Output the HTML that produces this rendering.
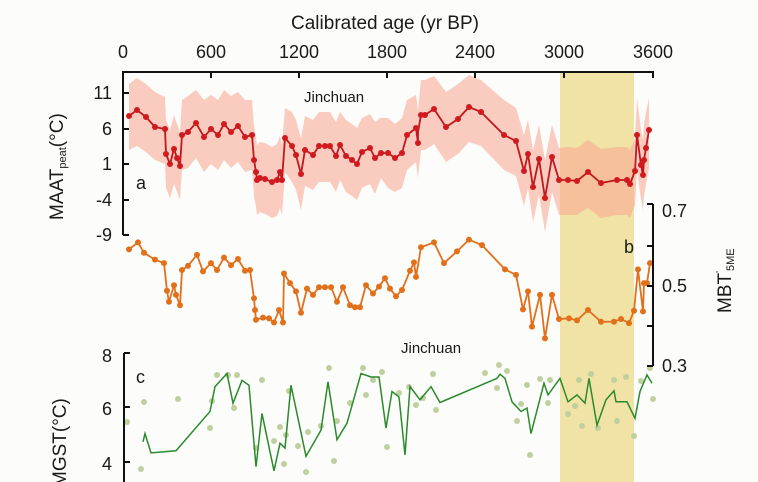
<!DOCTYPE html>
<html><head><meta charset="utf-8"><style>
html,body{margin:0;padding:0;background:#fcfcfa;overflow:hidden;}
svg{display:block;font-family:"Liberation Sans",Arial,sans-serif;}
</style></head><body>
<svg width="758" height="482" viewBox="0 0 758 482" xmlns="http://www.w3.org/2000/svg">
<rect width="758" height="482" fill="#fcfcfa"/>
<rect x="560" y="72" width="74" height="410" fill="#f1e3a6"/>
<!-- band a -->
<polygon fill="#f7a48f" fill-opacity="0.55" points="129,84 137,78 146,84 155,92 165,97 166,120 170,130 174,115 177,124 180,132 182,100 188,96 196,90 204,100 211,95 218,100 224,90 231,96 238,92 245,100 252,100 254,125 256,138 257,145 260,142 265,143 272,147 277,144 280,136 282,145 285,108 292,112 296,120 301,138 305,116 313,120 319,112 325,112 330,112 336,122 340,112 346,120 352,124 357,128 362,118 370,114 375,122 380,118 388,118 395,124 402,118 407,100 416,95 418,110 421,80 425,80 434,76 446,92 458,84 469,75 481,80 504,100 516,108 524,135 528,120 533,150 539,125 545,160 552,125 559,148 568,147 577,148 588,140 601,149 617,147 627,147 630,150 635,138 637,98 641,130 643,140 644,124 646,112 649,98 649,168 646,184 644,196 643,210 641,200 637,170 635,205 630,218 627,215 617,215 601,218 588,208 577,215 568,215 559,215 552,192 545,232 539,195 533,222 528,188 524,206 516,176 504,170 481,146 469,142 458,154 446,162 434,144 425,150 421,150 418,178 416,162 407,170 402,188 395,192 388,188 381,178 375,194 370,184 362,188 357,200 352,196 346,192 340,180 336,192 330,182 325,182 319,182 313,190 305,186 301,210 296,190 292,182 285,172 282,215 280,208 277,216 272,218 265,214 260,212 257,215 256,207 254,196 252,170 245,172 238,162 231,168 224,160 218,170 211,164 204,172 196,158 188,168 182,170 180,200 177,192 174,184 170,198 166,188 165,164 155,160 146,152 137,146 129,150"/>
<!-- series a -->
<g stroke="#c0181c" stroke-width="1.8" fill="none">
<polyline points="129,116 137,110 146,117 155,127 165,129 166,154 170,164 174,149 177,158 180,166 182,135 188,132 196,123 204,137 211,129 218,135 224,124 231,132 238,126 245,137 252,135 254,160 256,172 257,180 260,178 265,179 272,182 277,180 280,172 282,180 285,138 292,146 296,155 301,174 305,150 313,155 319,146 325,146 330,146 336,156 340,145 346,156 352,160 357,164 362,152 370,148 375,158 381,153 388,153 395,158 402,153 407,135 416,128 418,143 418,132 421,115 425,115 434,109 446,127 458,119 469,107 481,112 504,135 516,141 524,171 528,154 533,187 539,159 545,198 552,157 559,180 568,180 577,181 588,172 601,183 617,180 627,180 630,184 635,171 637,135 641,165 643,175 644,160 646,148 649,130"/>
</g>
<g fill="#d01a1e">
<circle cx="129" cy="116" r="3"/><circle cx="137" cy="110" r="3"/><circle cx="146" cy="117" r="3"/><circle cx="155" cy="127" r="3"/><circle cx="165" cy="129" r="3"/><circle cx="166" cy="154" r="3"/><circle cx="170" cy="164" r="3"/><circle cx="174" cy="149" r="3"/><circle cx="177" cy="158" r="3"/><circle cx="180" cy="166" r="3"/><circle cx="182" cy="135" r="3"/><circle cx="188" cy="132" r="3"/><circle cx="196" cy="123" r="3"/><circle cx="204" cy="137" r="3"/><circle cx="211" cy="129" r="3"/><circle cx="218" cy="135" r="3"/><circle cx="224" cy="124" r="3"/><circle cx="231" cy="132" r="3"/><circle cx="238" cy="126" r="3"/><circle cx="245" cy="137" r="3"/><circle cx="252" cy="135" r="3"/><circle cx="254" cy="160" r="3"/><circle cx="256" cy="172" r="3"/><circle cx="257" cy="180" r="3"/><circle cx="260" cy="178" r="3"/><circle cx="265" cy="179" r="3"/><circle cx="272" cy="182" r="3"/><circle cx="277" cy="180" r="3"/><circle cx="280" cy="172" r="3"/><circle cx="282" cy="180" r="3"/><circle cx="285" cy="138" r="3"/><circle cx="292" cy="146" r="3"/><circle cx="296" cy="155" r="3"/><circle cx="301" cy="174" r="3"/><circle cx="305" cy="150" r="3"/><circle cx="313" cy="155" r="3"/><circle cx="319" cy="146" r="3"/><circle cx="325" cy="146" r="3"/><circle cx="330" cy="146" r="3"/><circle cx="336" cy="156" r="3"/><circle cx="340" cy="145" r="3"/><circle cx="346" cy="156" r="3"/><circle cx="352" cy="160" r="3"/><circle cx="357" cy="164" r="3"/><circle cx="362" cy="152" r="3"/><circle cx="370" cy="148" r="3"/><circle cx="375" cy="158" r="3"/><circle cx="381" cy="153" r="3"/><circle cx="388" cy="153" r="3"/><circle cx="395" cy="158" r="3"/><circle cx="402" cy="153" r="3"/><circle cx="407" cy="135" r="3"/><circle cx="416" cy="128" r="3"/><circle cx="418" cy="143" r="3"/><circle cx="421" cy="115" r="3"/><circle cx="425" cy="115" r="3"/><circle cx="434" cy="109" r="3"/><circle cx="446" cy="127" r="3"/><circle cx="458" cy="119" r="3"/><circle cx="469" cy="107" r="3"/><circle cx="481" cy="112" r="3"/><circle cx="504" cy="135" r="3"/><circle cx="516" cy="141" r="3"/><circle cx="524" cy="171" r="3"/><circle cx="528" cy="154" r="3"/><circle cx="533" cy="187" r="3"/><circle cx="539" cy="159" r="3"/><circle cx="545" cy="198" r="3"/><circle cx="552" cy="157" r="3"/><circle cx="559" cy="180" r="3"/><circle cx="568" cy="180" r="3"/><circle cx="577" cy="181" r="3"/><circle cx="588" cy="172" r="3"/><circle cx="601" cy="183" r="3"/><circle cx="617" cy="180" r="3"/><circle cx="627" cy="180" r="3"/><circle cx="630" cy="184" r="3"/><circle cx="635" cy="171" r="3"/><circle cx="637" cy="135" r="3"/><circle cx="641" cy="165" r="3"/><circle cx="643" cy="175" r="3"/><circle cx="644" cy="160" r="3"/><circle cx="646" cy="148" r="3"/><circle cx="649" cy="130" r="3"/>
</g>
<!-- series b (y-compressed) -->
<g transform="translate(0,230) scale(1,0.69) translate(0,-230)">
<polyline fill="none" stroke="#e0701c" stroke-width="1.8" vector-effect="non-scaling-stroke" points="129,258 138,248 144,263 155,273 164,278 167,318 169,334 174,310 176,324 180,339 182,288 188,282 197,266 203,290 211,278 217,288 224,270 231,281 238,272 245,289 250,288 254,329 255,346 256,360 263,357 269,358 274,364 279,346 283,364 284,293 290,307 296,319 301,350 307,315 313,324 319,313 325,313 331,313 337,334 343,313 350,339 355,342 360,342 366,310 373,322 379,312 385,300 390,315 396,326 402,317 410,289 414,277 416,298 421,255 434,248 444,278 457,261 469,244 482,252 505,287 516,295 523,345 528,319 532,370 540,324 545,387 552,324 559,359 569,358 577,361 588,346 601,363 614,363 621,359 629,365 634,347 638,287 643,348 644,307 647,307 650,278"/>
<g fill="#e2701a">
<ellipse cx="129" cy="258" rx="3" ry="4.35"/><ellipse cx="138" cy="248" rx="3" ry="4.35"/><ellipse cx="144" cy="263" rx="3" ry="4.35"/><ellipse cx="155" cy="273" rx="3" ry="4.35"/><ellipse cx="164" cy="278" rx="3" ry="4.35"/><ellipse cx="167" cy="318" rx="3" ry="4.35"/><ellipse cx="169" cy="334" rx="3" ry="4.35"/><ellipse cx="174" cy="310" rx="3" ry="4.35"/><ellipse cx="176" cy="324" rx="3" ry="4.35"/><ellipse cx="180" cy="339" rx="3" ry="4.35"/><ellipse cx="182" cy="288" rx="3" ry="4.35"/><ellipse cx="188" cy="282" rx="3" ry="4.35"/><ellipse cx="197" cy="266" rx="3" ry="4.35"/><ellipse cx="203" cy="290" rx="3" ry="4.35"/><ellipse cx="211" cy="278" rx="3" ry="4.35"/><ellipse cx="217" cy="288" rx="3" ry="4.35"/><ellipse cx="224" cy="270" rx="3" ry="4.35"/><ellipse cx="231" cy="281" rx="3" ry="4.35"/><ellipse cx="238" cy="272" rx="3" ry="4.35"/><ellipse cx="245" cy="289" rx="3" ry="4.35"/><ellipse cx="250" cy="288" rx="3" ry="4.35"/><ellipse cx="254" cy="329" rx="3" ry="4.35"/><ellipse cx="255" cy="346" rx="3" ry="4.35"/><ellipse cx="256" cy="360" rx="3" ry="4.35"/><ellipse cx="263" cy="357" rx="3" ry="4.35"/><ellipse cx="269" cy="358" rx="3" ry="4.35"/><ellipse cx="274" cy="364" rx="3" ry="4.35"/><ellipse cx="279" cy="346" rx="3" ry="4.35"/><ellipse cx="283" cy="364" rx="3" ry="4.35"/><ellipse cx="284" cy="293" rx="3" ry="4.35"/><ellipse cx="290" cy="307" rx="3" ry="4.35"/><ellipse cx="296" cy="319" rx="3" ry="4.35"/><ellipse cx="301" cy="350" rx="3" ry="4.35"/><ellipse cx="307" cy="315" rx="3" ry="4.35"/><ellipse cx="313" cy="324" rx="3" ry="4.35"/><ellipse cx="319" cy="313" rx="3" ry="4.35"/><ellipse cx="325" cy="313" rx="3" ry="4.35"/><ellipse cx="331" cy="313" rx="3" ry="4.35"/><ellipse cx="337" cy="334" rx="3" ry="4.35"/><ellipse cx="343" cy="313" rx="3" ry="4.35"/><ellipse cx="350" cy="339" rx="3" ry="4.35"/><ellipse cx="355" cy="342" rx="3" ry="4.35"/><ellipse cx="360" cy="342" rx="3" ry="4.35"/><ellipse cx="366" cy="310" rx="3" ry="4.35"/><ellipse cx="373" cy="322" rx="3" ry="4.35"/><ellipse cx="379" cy="312" rx="3" ry="4.35"/><ellipse cx="385" cy="300" rx="3" ry="4.35"/><ellipse cx="390" cy="315" rx="3" ry="4.35"/><ellipse cx="396" cy="326" rx="3" ry="4.35"/><ellipse cx="402" cy="317" rx="3" ry="4.35"/><ellipse cx="410" cy="289" rx="3" ry="4.35"/><ellipse cx="414" cy="277" rx="3" ry="4.35"/><ellipse cx="416" cy="298" rx="3" ry="4.35"/><ellipse cx="421" cy="255" rx="3" ry="4.35"/><ellipse cx="434" cy="248" rx="3" ry="4.35"/><ellipse cx="444" cy="278" rx="3" ry="4.35"/><ellipse cx="457" cy="261" rx="3" ry="4.35"/><ellipse cx="469" cy="244" rx="3" ry="4.35"/><ellipse cx="482" cy="252" rx="3" ry="4.35"/><ellipse cx="505" cy="287" rx="3" ry="4.35"/><ellipse cx="516" cy="295" rx="3" ry="4.35"/><ellipse cx="523" cy="345" rx="3" ry="4.35"/><ellipse cx="528" cy="319" rx="3" ry="4.35"/><ellipse cx="532" cy="370" rx="3" ry="4.35"/><ellipse cx="540" cy="324" rx="3" ry="4.35"/><ellipse cx="545" cy="387" rx="3" ry="4.35"/><ellipse cx="552" cy="324" rx="3" ry="4.35"/><ellipse cx="559" cy="359" rx="3" ry="4.35"/><ellipse cx="569" cy="358" rx="3" ry="4.35"/><ellipse cx="577" cy="361" rx="3" ry="4.35"/><ellipse cx="588" cy="346" rx="3" ry="4.35"/><ellipse cx="601" cy="363" rx="3" ry="4.35"/><ellipse cx="614" cy="363" rx="3" ry="4.35"/><ellipse cx="621" cy="359" rx="3" ry="4.35"/><ellipse cx="629" cy="365" rx="3" ry="4.35"/><ellipse cx="634" cy="347" rx="3" ry="4.35"/><ellipse cx="638" cy="287" rx="3" ry="4.35"/><ellipse cx="643" cy="348" rx="3" ry="4.35"/><ellipse cx="644" cy="307" rx="3" ry="4.35"/><ellipse cx="647" cy="307" rx="3" ry="4.35"/><ellipse cx="650" cy="278" rx="3" ry="4.35"/>
</g>
</g>
<!-- series c scatter -->
<g fill="#bfcf9e">
<circle cx="144" cy="402" r="3"/><circle cx="127" cy="422" r="3"/><circle cx="141" cy="469" r="3"/><circle cx="178" cy="399" r="3"/><circle cx="212" cy="401" r="3"/><circle cx="210" cy="428" r="3"/><circle cx="217" cy="375" r="3"/><circle cx="228" cy="375" r="3"/><circle cx="237" cy="375" r="3"/><circle cx="234" cy="408" r="3"/><circle cx="262" cy="380" r="3"/><circle cx="289" cy="391" r="3"/><circle cx="329" cy="368" r="3"/><circle cx="363" cy="368" r="3"/><circle cx="382" cy="372" r="3"/><circle cx="366" cy="395" r="3"/><circle cx="373" cy="380" r="3"/><circle cx="350" cy="403" r="3"/><circle cx="337" cy="421" r="3"/><circle cx="334" cy="461" r="3"/><circle cx="308" cy="432" r="3"/><circle cx="298" cy="446" r="3"/><circle cx="306" cy="472" r="3"/><circle cx="280" cy="427" r="3"/><circle cx="284" cy="464" r="3"/><circle cx="286" cy="435" r="3"/><circle cx="274" cy="441" r="3"/><circle cx="256" cy="448" r="3"/><circle cx="321" cy="426" r="3"/><circle cx="399" cy="393" r="3"/><circle cx="409" cy="387" r="3"/><circle cx="416" cy="405" r="3"/><circle cx="423" cy="398" r="3"/><circle cx="433" cy="374" r="3"/><circle cx="436" cy="410" r="3"/><circle cx="387" cy="447" r="3"/><circle cx="485" cy="373" r="3"/><circle cx="499" cy="365" r="3"/><circle cx="507" cy="371" r="3"/><circle cx="497" cy="388" r="3"/><circle cx="527" cy="385" r="3"/><circle cx="517" cy="421" r="3"/><circle cx="521" cy="404" r="3"/><circle cx="530" cy="455" r="3"/><circle cx="540" cy="379" r="3"/><circle cx="550" cy="380" r="3"/><circle cx="548" cy="403" r="3"/><circle cx="568" cy="414" r="3"/><circle cx="579" cy="380" r="3"/><circle cx="582" cy="426" r="3"/><circle cx="591" cy="374" r="3"/><circle cx="598" cy="428" r="3"/><circle cx="614" cy="380" r="3"/><circle cx="617" cy="421" r="3"/><circle cx="626" cy="377" r="3"/><circle cx="634" cy="436" r="3"/><circle cx="641" cy="381" r="3"/><circle cx="650" cy="368" r="3"/><circle cx="653" cy="399" r="3"/><circle cx="575" cy="406" r="3"/>
</g>
<g transform="translate(0,230) scale(1,0.69) translate(0,-230)">
<polyline fill="none" stroke="#2a8a2c" stroke-width="1.5" vector-effect="non-scaling-stroke" points="143,537 145,525 151,553 176,550 210,493 215,457 227,438 233,481 242,448 249,455 256,573 262,496 274,579 280,539 285,546 291,455 306,558 321,520 328,450 337,534 347,510 361,438 371,443 379,443 386,517 392,464 399,472 405,556 410,457 420,476 431,457 440,480 497,445 500,439 505,445 512,479 521,493 527,488 531,525 544,452 548,469 560,445 568,479 577,469 585,481 589,445 597,513 606,476 614,463 616,479 627,479 635,503 640,464 647,440 652,452"/>
</g>
<!-- axes -->
<g stroke="#111" stroke-width="2" fill="none">
<polyline points="123,78 123,72 653,72 653,78"/>
<line x1="211" y1="72" x2="211" y2="78"/><line x1="299" y1="72" x2="299" y2="78"/><line x1="387" y1="72" x2="387" y2="78"/><line x1="475" y1="72" x2="475" y2="78"/><line x1="564" y1="72" x2="564" y2="78"/>
<line x1="123" y1="72" x2="123" y2="235"/><line x1="123" y1="235" x2="129" y2="235"/>
<line x1="123" y1="93" x2="129" y2="93"/><line x1="123" y1="129" x2="129" y2="129"/><line x1="123" y1="164" x2="129" y2="164"/><line x1="123" y1="200" x2="129" y2="200"/>
<line x1="653" y1="204" x2="653" y2="366"/>
<line x1="647" y1="204" x2="653" y2="204"/><line x1="647" y1="246" x2="653" y2="246"/><line x1="647" y1="286" x2="653" y2="286"/><line x1="647" y1="326" x2="653" y2="326"/><line x1="647" y1="366" x2="653" y2="366"/>
<line x1="124" y1="353" x2="124" y2="482"/><line x1="124" y1="353" x2="130" y2="353"/><line x1="124" y1="407" x2="130" y2="407"/><line x1="124" y1="462" x2="130" y2="462"/>
</g>
<g fill="#1a1a1a" font-size="18">
<text x="385" y="29" text-anchor="middle" font-size="19">Calibrated age (yr BP)</text>
<text x="123" y="58" text-anchor="middle">0</text>
<text x="211" y="58" text-anchor="middle">600</text>
<text x="299" y="58" text-anchor="middle">1200</text>
<text x="387" y="58" text-anchor="middle">1800</text>
<text x="475" y="58" text-anchor="middle">2400</text>
<text x="564" y="58" text-anchor="middle">3000</text>
<text x="653" y="58" text-anchor="middle">3600</text>
<text x="112" y="99" text-anchor="end">11</text>
<text x="112" y="135" text-anchor="end">6</text>
<text x="112" y="170" text-anchor="end">1</text>
<text x="112" y="206" text-anchor="end">-4</text>
<text x="112" y="241" text-anchor="end">-9</text>
<text x="662" y="217">0.7</text>
<text x="662" y="292">0.5</text>
<text x="662" y="372">0.3</text>
<text x="112" y="362" text-anchor="end">8</text>
<text x="112" y="415" text-anchor="end">6</text>
<text x="112" y="470" text-anchor="end">4</text>
<text x="304" y="102" font-size="15">Jinchuan</text>
<text x="401" y="353" font-size="15">Jinchuan</text>
<text x="136" y="189">a</text>
<text x="624" y="253">b</text>
<text x="136" y="383">c</text>
<text transform="translate(63,220) rotate(-90)" font-size="19">MAAT<tspan font-size="11" dy="3">peat</tspan><tspan dy="-3">(°C)</tspan></text>
<text transform="translate(731,313) rotate(-90)" font-size="19">MBT<tspan font-size="10" dy="-8">'</tspan><tspan font-size="11" dy="11">5ME</tspan></text>
<text transform="translate(66,487) rotate(-90)" font-size="19">MGST(°C)</text>
</g>
</svg>
</body></html>
